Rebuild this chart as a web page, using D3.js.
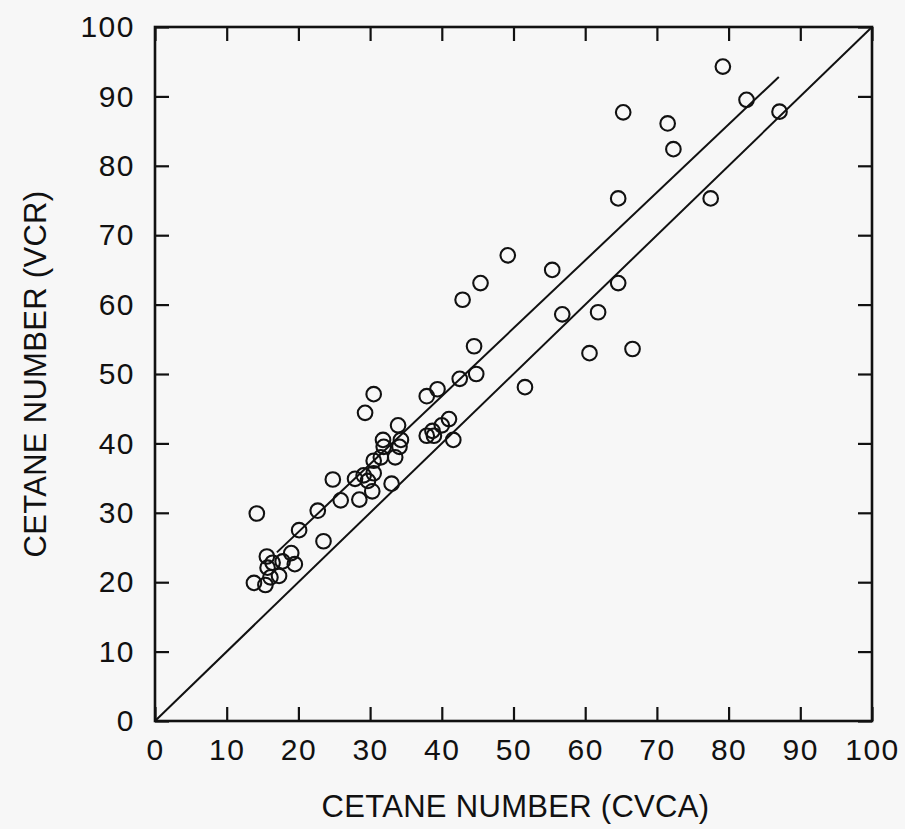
<!DOCTYPE html>
<html>
<head>
<meta charset="utf-8">
<script src="https://cdn.jsdelivr.net/npm/d3@7"></script>
<style>
  html, body { margin: 0; padding: 0; background: #f7f7f7; }
  svg { display: block; }
  text { font-family: "Liberation Sans", Arial, sans-serif; fill: #111; }
</style>
</head>
<body>
<svg id="chart" width="905" height="829"></svg>
<script>
// Cetane number: CVCA method (x) versus VCR method (y)
const cvca = [
  14.2, 13.8, 15.4, 15.6, 15.7, 16.1, 16.4, 17.3, 17.8, 19.0,
  19.5, 20.1, 22.7, 23.5, 24.8, 25.9, 27.9, 28.5, 29.3, 29.1,
  29.7, 30.3, 30.5, 30.5, 30.5, 31.5, 31.8, 31.9, 33.0, 33.5,
  33.9, 34.1, 34.3, 37.9, 37.9, 38.7, 38.9, 39.4, 40.0, 41.0,
  41.6, 42.5, 42.9, 44.5, 44.8, 45.4, 49.2, 51.6, 55.4, 56.8,
  60.6, 61.8, 64.6, 64.6, 65.3, 66.6, 71.5, 72.3, 77.5, 79.2,
  82.5, 87.1
];
const vcr = [
  29.9, 19.9, 19.6, 23.7, 22.1, 20.7, 22.8, 20.9, 23.0, 24.2,
  22.6, 27.5, 30.3, 25.9, 34.8, 31.8, 34.9, 31.9, 44.4, 35.4,
  34.6, 33.1, 35.7, 47.1, 37.5, 38.0, 40.5, 39.5, 34.2, 38.0,
  42.6, 39.5, 40.5, 46.8, 41.1, 41.8, 41.1, 47.8, 42.6, 43.5,
  40.5, 49.3, 60.7, 54.0, 50.0, 63.1, 67.1, 48.1, 65.0, 58.6,
  53.0, 58.9, 63.1, 75.3, 87.7, 53.6, 86.1, 82.4, 75.3, 94.3,
  89.5, 87.8
];

// Reference lines: one-to-one line and the fitted correlation line
const identityLine = [[0, 0], [100, 100]];
const fitLine = [[17, 24.3], [87, 92.8]];

const tickValues = [0, 10, 20, 30, 40, 50, 60, 70, 80, 90, 100];
const xTitle = "CETANE NUMBER (CVCA)";
const yTitle = "CETANE NUMBER (VCR)";

const svg = d3.select("#chart");
const margin = { left: 155, right: 33, top: 27, bottom: 108 };
const W = 905, H = 829;
const iw = W - margin.left - margin.right;
const ih = H - margin.top - margin.bottom;

const x = d3.scaleLinear().domain([0, 100]).range([0, iw]);
const y = d3.scaleLinear().domain([0, 100]).range([ih, 0]);

const g = svg.append("g").attr("transform", `translate(${margin.left},${margin.top})`);

const tickLen = 14;
const fontSize = 30;

// Bottom axis with labels
const xAxis = g.append("g")
  .attr("transform", `translate(0,${ih})`)
  .call(d3.axisBottom(x).tickValues(tickValues).tickSizeInner(-tickLen).tickSizeOuter(0).tickPadding(18));
// Left axis with labels
const yAxis = g.append("g")
  .call(d3.axisLeft(y).tickValues(tickValues).tickSizeInner(-tickLen).tickSizeOuter(0).tickPadding(20));
// Top and right axes: ticks only
const xTop = g.append("g")
  .call(d3.axisTop(x).tickValues(tickValues).tickSizeInner(-tickLen).tickSizeOuter(0).tickFormat(""));
const yRight = g.append("g")
  .attr("transform", `translate(${iw},0)`)
  .call(d3.axisRight(y).tickValues(tickValues).tickSizeInner(-tickLen).tickSizeOuter(0).tickFormat(""));

[xAxis, yAxis, xTop, yRight].forEach(a => {
  a.select(".domain").remove();
  a.selectAll(".tick line").attr("stroke", "#111").attr("stroke-width", 2.2);
  a.selectAll(".tick text")
    .attr("font-family", "Liberation Sans, Arial, sans-serif")
    .attr("font-size", fontSize)
    .attr("letter-spacing", 1.5)
    .attr("fill", "#111");
});

// Plot frame
g.append("rect")
  .attr("x", 0).attr("y", 0)
  .attr("width", iw).attr("height", ih)
  .attr("fill", "none")
  .attr("stroke", "#111")
  .attr("stroke-width", 2.6);

// Lines
const line = d3.line().x(d => x(d[0])).y(d => y(d[1]));
g.append("path")
  .datum(identityLine)
  .attr("d", line)
  .attr("fill", "none")
  .attr("stroke", "#111")
  .attr("stroke-width", 2);
g.append("path")
  .datum(fitLine)
  .attr("d", line)
  .attr("fill", "none")
  .attr("stroke", "#111")
  .attr("stroke-width", 2);

// Data points as open circles
g.append("g")
  .selectAll("circle")
  .data(cvca.map((v, i) => [v, vcr[i]]))
  .join("circle")
  .attr("cx", d => x(d[0]))
  .attr("cy", d => y(d[1]))
  .attr("r", 7.3)
  .attr("fill", "none")
  .attr("stroke", "#111")
  .attr("stroke-width", 2.1);

// Axis titles
svg.append("text")
  .attr("x", margin.left + iw / 2 + 2)
  .attr("y", 817)
  .attr("text-anchor", "middle")
  .attr("font-size", 31)
  .attr("letter-spacing", 0.3)
  .text(xTitle);

svg.append("text")
  .attr("transform", `translate(46,${margin.top + ih / 2}) rotate(-90)`)
  .attr("text-anchor", "middle")
  .attr("font-size", 31)
  .attr("letter-spacing", 0.3)
  .text(yTitle);
</script>
</body>
</html>
